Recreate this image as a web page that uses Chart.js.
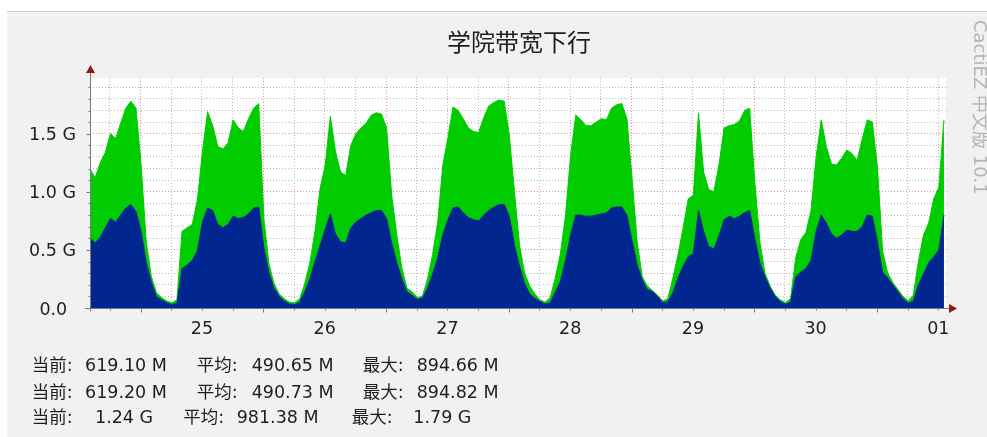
<!DOCTYPE html>
<html><head><meta charset="utf-8">
<script src="https://cdn.jsdelivr.net/npm/chart.js@4.4.1/dist/chart.umd.min.js"></script>
<style>
html,body{margin:0;padding:0;background:#fff;}
#wrap{position:relative;width:987px;height:437px;overflow:hidden;background:#fff;}
#panel{position:absolute;left:7px;top:11px;right:0;bottom:0;background:#f1f1f1;border-top:1px solid #cdcdcd;}
#c{position:absolute;left:0;top:0;}
.t{position:absolute;font-family:"DejaVu Sans","Noto Sans CJK SC",sans-serif;font-size:17.5px;color:#1e1e1e;white-space:pre;line-height:20px;}
#title{position:absolute;left:369px;width:300px;top:27px;text-align:center;font-family:"Noto Sans CJK SC",sans-serif;font-size:24px;line-height:28px;color:#1e1e1e;}
#wm{position:absolute;left:990px;top:20px;transform-origin:0 0;transform:rotate(90deg);font-family:"DejaVu Sans","Noto Sans CJK SC",sans-serif;font-size:18px;line-height:20px;color:#b4b4b4;white-space:pre;}
</style></head>
<body>
<div id="wrap">
  <div id="panel"></div>
  <canvas id="c" width="987" height="437"></canvas>
  <div id="title">学院带宽下行</div>
  <div id="wm">CactiEZ 中文版 10.1</div>
  <div id="stats"></div>
</div>
<script>
// ---- data (values in G) ----
const chartTitle = '学院带宽下行';
const dayLabels = ['25','26','27','28','29','30','01'];
const yTickLabels = ['0.0\u2002','0.5 G','1.0 G','1.5 G'];
const startHour = 2.1; // hours after 00:00 on day 24, one sample per hour
const lowerSeries = [
0.60,0.56,0.61,0.69,0.77,0.74,0.80,0.86,0.89,0.83,
0.66,0.39,0.22,0.10,0.07,0.045,0.03,0.04,0.34,0.37,
0.41,0.49,0.74,0.86,0.84,0.72,0.69,0.72,0.79,0.77,
0.78,0.81,0.86,0.87,0.52,0.30,0.17,0.10,0.06,0.035,
0.03,0.05,0.14,0.25,0.40,0.54,0.68,0.81,0.64,0.57,
0.56,0.69,0.74,0.77,0.80,0.82,0.84,0.84,0.77,0.56,
0.39,0.25,0.14,0.11,0.075,0.085,0.17,0.29,0.43,0.63,
0.76,0.86,0.87,0.82,0.78,0.76,0.75,0.80,0.84,0.87,
0.89,0.89,0.79,0.54,0.36,0.21,0.12,0.085,0.055,0.035,
0.045,0.14,0.23,0.41,0.63,0.80,0.80,0.79,0.79,0.80,
0.81,0.82,0.86,0.87,0.87,0.80,0.58,0.37,0.24,0.16,
0.14,0.10,0.045,0.055,0.13,0.26,0.36,0.44,0.47,0.84,
0.66,0.53,0.51,0.62,0.76,0.79,0.77,0.79,0.82,0.84,
0.60,0.39,0.27,0.17,0.10,0.055,0.034,0.05,0.27,0.31,
0.34,0.41,0.66,0.80,0.73,0.64,0.60,0.63,0.67,0.66,
0.66,0.70,0.80,0.79,0.57,0.31,0.26,0.20,0.14,0.08,
0.043,0.057,0.20,0.29,0.39,0.44,0.50,0.80];
const upperSeries = [
0.60,0.56,0.64,0.65,0.73,0.72,0.79,0.86,0.89,0.89,
0.57,0.18,0.05,0.03,0.02,0.015,0.015,0.03,0.32,0.32,
0.31,0.44,0.61,0.83,0.73,0.67,0.68,0.70,0.83,0.78,
0.74,0.82,0.86,0.89,0.25,0.08,0.04,0.02,0.02,0.015,
0.015,0.03,0.07,0.14,0.26,0.49,0.55,0.84,0.71,0.60,
0.58,0.71,0.76,0.78,0.79,0.84,0.84,0.83,0.78,0.41,
0.24,0.09,0.03,0.03,0.015,0.015,0.08,0.17,0.31,0.60,
0.71,0.87,0.83,0.81,0.77,0.76,0.76,0.84,0.90,0.90,
0.90,0.89,0.70,0.46,0.18,0.09,0.07,0.035,0.015,0.015,
0.045,0.12,0.24,0.39,0.69,0.86,0.82,0.78,0.78,0.80,
0.82,0.80,0.86,0.88,0.89,0.83,0.54,0.20,0.03,0.03,
0.01,0.01,0.015,0.025,0.13,0.20,0.33,0.50,0.50,0.84,
0.51,0.49,0.49,0.61,0.79,0.78,0.81,0.82,0.88,0.88,
0.49,0.18,0.03,0.02,0.01,0.015,0.012,0.03,0.16,0.28,
0.31,0.43,0.64,0.82,0.66,0.60,0.63,0.66,0.69,0.67,
0.61,0.75,0.82,0.81,0.64,0.18,0.04,0.02,0.02,0.02,
0.02,0.053,0.20,0.34,0.34,0.50,0.54,0.82];
const statLabels = ['当前:','平均:','最大:'];
const statValues = [
  ['619.10 M','490.65 M','894.66 M'],
  ['619.20 M','490.73 M','894.82 M'],
  ['1.24 G','981.38 M','1.79 G']];

// ---- stats text (real DOM text) ----
const rowY = [355, 381.5, 406.5];
const labelX = [[31.7,196.7,362.7],[31.7,196.7,362.7],[31.7,183.3,351.7]];
const valueX = [[85,251.7,416.7],[85,251.7,416.7],[95,236.7,413.3]];
const stats = document.getElementById('stats');
statValues.forEach((row, r) => {
  row.forEach((val, c) => {
    const l = document.createElement('div'); l.className='t';
    l.textContent = statLabels[c]; l.style.left = labelX[r][c]+'px'; l.style.top = rowY[r]+'px';
    stats.appendChild(l);
    const v = document.createElement('div'); v.className='t';
    v.textContent = val; v.style.left = valueX[r][c]+'px'; v.style.top = rowY[r]+'px';
    stats.appendChild(v);
  });
});
document.getElementById('title').textContent = chartTitle;

// ---- chart ----
const hours = lowerSeries.map((_, i) => startHour + i);
const xGrid = []; for (let h = 6; h <= 168; h += 6) xGrid.push(h);
const yGrid = []; for (let i = 0; i <= 19; i++) yGrid.push(i / 10);
const GRAY = '#b8b8b8', RED = '#ee8a8a';
const FONT = {family:'DejaVu Sans', size:17.5};

const framePlugin = {
  id:'frame',
  beforeDraw(chart){
    const {ctx, chartArea:a} = chart;
    ctx.save(); ctx.fillStyle = '#ffffff';
    ctx.fillRect(a.left, a.top, a.right - a.left, a.bottom - a.top);
    ctx.restore();
  },
  afterDraw(chart){
    const {ctx, chartArea:a, scales} = chart;
    const x0 = Math.round(a.left) + 0.5, yb = Math.round(a.bottom) + 0.5;
    ctx.save();
    ctx.strokeStyle = '#7a7a7a'; ctx.lineWidth = 1;
    ctx.beginPath(); ctx.moveTo(x0, yb + 3); ctx.lineTo(x0, a.top - 8); ctx.stroke();
    ctx.beginPath(); ctx.moveTo(a.left - 5, yb); ctx.lineTo(a.right + 4, yb); ctx.stroke();
    yGrid.forEach(v => {
      const y = Math.round(scales.y.getPixelForValue(v)) + 0.5;
      const major = Math.round(v * 10) % 5 === 0;
      ctx.beginPath(); ctx.moveTo(x0 - (major ? 4 : 2), y); ctx.lineTo(x0, y); ctx.stroke();
    });
    xGrid.forEach(h => {
      const x = Math.round(scales.x.getPixelForValue(h)) + 0.5;
      const major = h % 24 === 12;
      ctx.beginPath(); ctx.moveTo(x, yb); ctx.lineTo(x, yb + (major ? 4 : 2)); ctx.stroke();
    });
    ctx.fillStyle = '#8b1c1c';
    ctx.beginPath(); ctx.moveTo(x0 - 4.5, a.top - 5); ctx.lineTo(x0 + 4.5, a.top - 5); ctx.lineTo(x0, a.top - 13); ctx.closePath(); ctx.fill();
    const xr = a.right + 3;
    ctx.beginPath(); ctx.moveTo(xr, yb - 4.5); ctx.lineTo(xr, yb + 4.5); ctx.lineTo(xr + 8, yb); ctx.closePath(); ctx.fill();
    ctx.restore();
  }
};

new Chart(document.getElementById('c'), {
  type:'line',
  data:{
    datasets:[
      {label:'lower', data: hours.map((h, i) => ({x:h, y:lowerSeries[i]})),
       backgroundColor:'#022690', borderColor:'#022690', borderWidth:1, fill:'origin', pointRadius:0, tension:0},
      {label:'upper', data: hours.map((h, i) => ({x:h, y:upperSeries[i]})),
       backgroundColor:'#00cc00', borderColor:'#00cc00', borderWidth:1, fill:'-1', pointRadius:0, tension:0}
    ]
  },
  options:{
    responsive:false, animation:false, devicePixelRatio:1,
    layout:{padding:{top:78, right:41, bottom:0, left:0}},
    plugins:{legend:{display:false}, tooltip:{enabled:false}, title:{display:false}},
    scales:{
      x:{type:'linear', min:startHour, max:169.5, z:1,
        afterBuildTicks: s => { s.ticks = xGrid.map(v => ({value:v})); },
        afterFit: s => { s.height = 129; },
        ticks:{autoSkip:false, maxRotation:0, minRotation:0, padding:11, font:FONT, color:'#1e1e1e',
          callback: v => (v % 24 === 0 ? dayLabels[v / 24 - 1] : '')},
        grid:{drawTicks:false, lineWidth:1, color: c => (c.tick && c.tick.value % 24 === 12 ? RED : GRAY)},
        border:{display:false, dash:[1,2]}
      },
      y:{stacked:true, min:0, max:1.98, z:1,
        afterBuildTicks: s => { s.ticks = yGrid.map(v => ({value:v})); },
        afterFit: s => { s.width = 90; },
        ticks:{autoSkip:false, padding:14, labelOffset:2, font:FONT, color:'#1e1e1e',
          callback: v => { const i = Math.round(v * 10); return i % 5 === 0 ? yTickLabels[i / 5] : ''; }},
        grid:{drawTicks:false, lineWidth:1, color: c => {
          const i = Math.round(c.tick.value * 10);
          return i === 0 ? 'rgba(0,0,0,0)' : (i % 5 === 0 ? RED : GRAY); }},
        border:{display:false, dash:[1,2]}
      }
    }
  },
  plugins:[framePlugin]
});
</script>
</body></html>
